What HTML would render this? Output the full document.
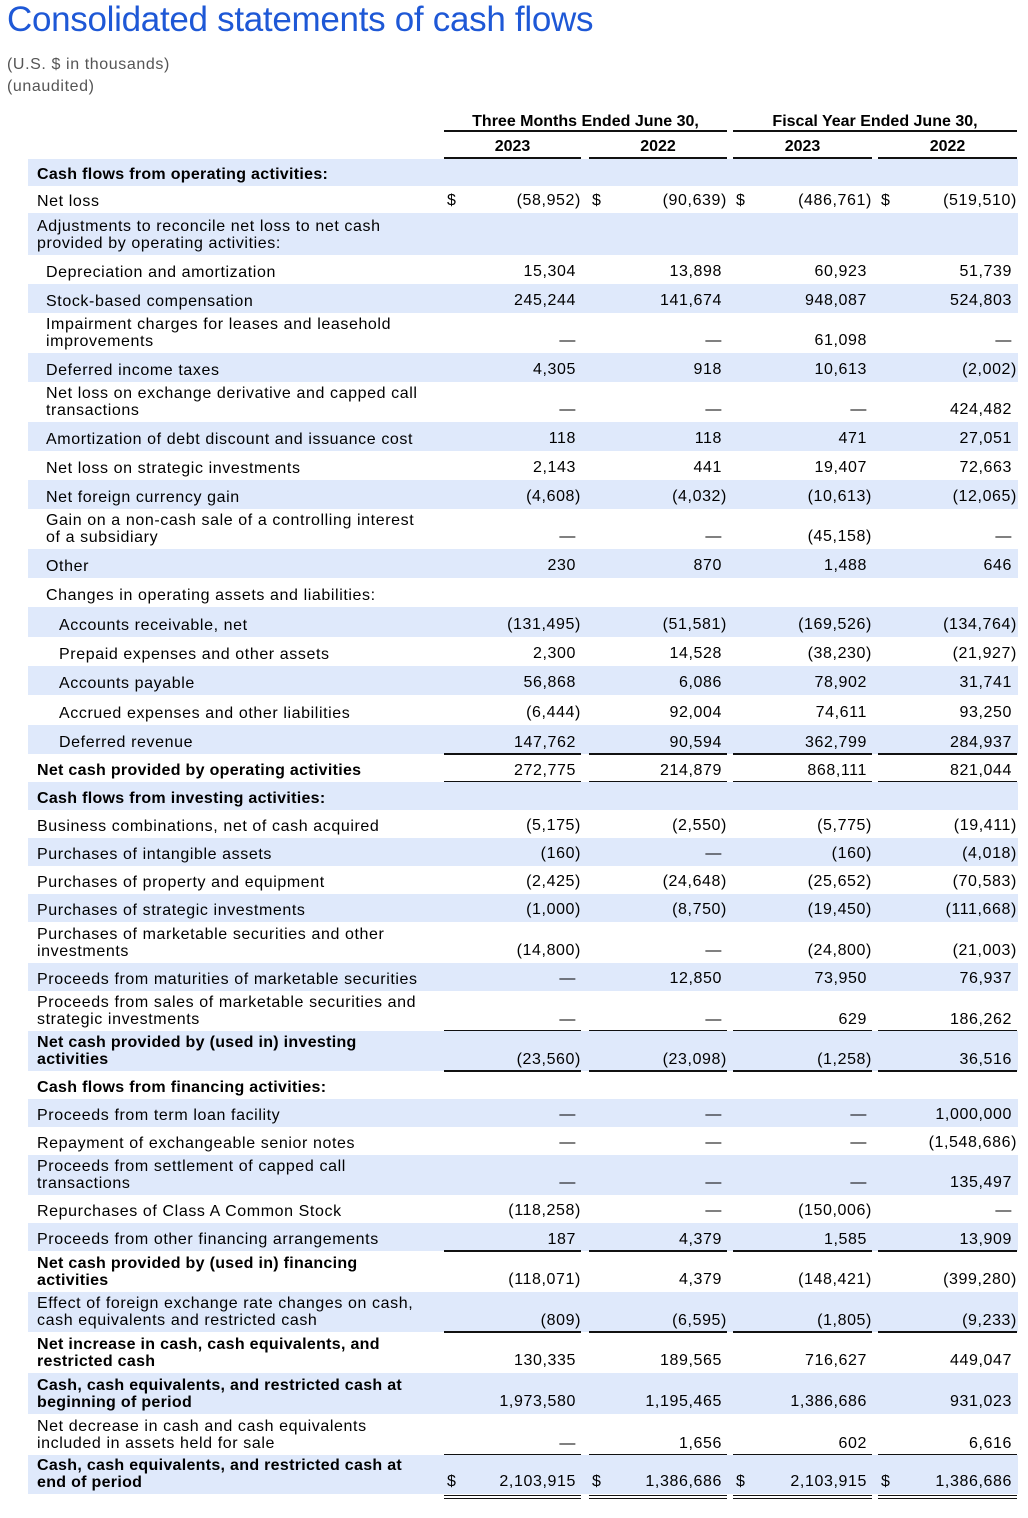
<!DOCTYPE html>
<html><head><meta charset="utf-8"><style>
body{margin:0;width:1028px;height:1518px;background:#fff;position:relative;font-family:"Liberation Sans",Arial,sans-serif;color:#000;overflow:hidden}
.t{position:absolute;left:7px;top:0px;font-size:35px;color:#1e58d6;letter-spacing:-0.3px}
.sub{position:absolute;left:7px;font-size:16px;color:#555;letter-spacing:0.6px}
.h{position:absolute;font-size:16px;font-weight:bold;text-align:center}
.hl{position:absolute;height:2px;background:#111}
.r{position:absolute;left:28px;width:990px}
.s{background:#dfe9fb}
.l{position:absolute;left:9px;bottom:3px;font-size:16px;line-height:17px;white-space:nowrap;letter-spacing:0.6px}
.l.b{letter-spacing:0.3px}
.l.i1{left:18px}.l.i2{left:31px}
.b{font-weight:bold}
.c{position:absolute;bottom:0;height:24px;line-height:24px;text-align:right;font-size:16px;box-sizing:border-box;letter-spacing:0.6px}
.c1{left:416px;width:137px}.c2{left:561px;width:138px}.c3{left:705px;width:139px}.c4{left:850px;width:139px}
.u{border-bottom:2px solid #111;bottom:-1px}
.dd{border-bottom:4px double #111;bottom:-5px;height:29px;line-height:24px}
.p{padding-right:5px}
.d{position:absolute;left:3px}
</style></head><body>
<div class="t">Consolidated statements of cash flows</div>
<div class="sub" style="top:56px">(U.S. $ in thousands)</div>
<div class="sub" style="top:78px">(unaudited)</div>
<div class="h" style="left:444px;width:283px;top:113px">Three Months Ended June 30,</div>
<div class="h" style="left:733px;width:284px;top:113px">Fiscal Year Ended June 30,</div>
<div class="hl" style="left:444px;width:283px;top:130px"></div>
<div class="hl" style="left:733px;width:284px;top:130px"></div>
<div class="h" style="left:444px;width:137px;top:138px">2023</div>
<div class="h" style="left:589px;width:138px;top:138px">2022</div>
<div class="h" style="left:733px;width:139px;top:138px">2023</div>
<div class="h" style="left:878px;width:139px;top:138px">2022</div>
<div class="hl" style="left:444px;width:137px;top:157px"></div>
<div class="hl" style="left:589px;width:138px;top:157px"></div>
<div class="hl" style="left:733px;width:139px;top:157px"></div>
<div class="hl" style="left:878px;width:139px;top:157px"></div>

<div class="r s" style="top:159px;height:27px"><div class="l b">Cash flows from operating activities:</div></div>
<div class="r" style="top:186px;height:27px"><div class="l">Net loss</div><div class="c c1"><span class="d">$</span>(58,952)</div><div class="c c2"><span class="d">$</span>(90,639)</div><div class="c c3"><span class="d">$</span>(486,761)</div><div class="c c4"><span class="d">$</span>(519,510)</div></div>
<div class="r s" style="top:213px;height:42px"><div class="l">Adjustments to reconcile net loss to net cash<br>provided by operating activities:</div></div>
<div class="r" style="top:255px;height:29px"><div class="l i1">Depreciation and amortization</div><div class="c c1 p">15,304</div><div class="c c2 p">13,898</div><div class="c c3 p">60,923</div><div class="c c4 p">51,739</div></div>
<div class="r s" style="top:284px;height:29px"><div class="l i1">Stock-based compensation</div><div class="c c1 p">245,244</div><div class="c c2 p">141,674</div><div class="c c3 p">948,087</div><div class="c c4 p">524,803</div></div>
<div class="r" style="top:313px;height:40px"><div class="l i1">Impairment charges for leases and leasehold<br>improvements</div><div class="c c1 p">—</div><div class="c c2 p">—</div><div class="c c3 p">61,098</div><div class="c c4 p">—</div></div>
<div class="r s" style="top:353px;height:29px"><div class="l i1">Deferred income taxes</div><div class="c c1 p">4,305</div><div class="c c2 p">918</div><div class="c c3 p">10,613</div><div class="c c4">(2,002)</div></div>
<div class="r" style="top:382px;height:40px"><div class="l i1">Net loss on exchange derivative and capped call<br>transactions</div><div class="c c1 p">—</div><div class="c c2 p">—</div><div class="c c3 p">—</div><div class="c c4 p">424,482</div></div>
<div class="r s" style="top:422px;height:29px"><div class="l i1">Amortization of debt discount and issuance cost</div><div class="c c1 p">118</div><div class="c c2 p">118</div><div class="c c3 p">471</div><div class="c c4 p">27,051</div></div>
<div class="r" style="top:451px;height:29px"><div class="l i1">Net loss on strategic investments</div><div class="c c1 p">2,143</div><div class="c c2 p">441</div><div class="c c3 p">19,407</div><div class="c c4 p">72,663</div></div>
<div class="r s" style="top:480px;height:29px"><div class="l i1">Net foreign currency gain</div><div class="c c1">(4,608)</div><div class="c c2">(4,032)</div><div class="c c3">(10,613)</div><div class="c c4">(12,065)</div></div>
<div class="r" style="top:509px;height:40px"><div class="l i1">Gain on a non-cash sale of a controlling interest<br>of a subsidiary</div><div class="c c1 p">—</div><div class="c c2 p">—</div><div class="c c3">(45,158)</div><div class="c c4 p">—</div></div>
<div class="r s" style="top:549px;height:29px"><div class="l i1">Other</div><div class="c c1 p">230</div><div class="c c2 p">870</div><div class="c c3 p">1,488</div><div class="c c4 p">646</div></div>
<div class="r" style="top:578px;height:29px"><div class="l i1">Changes in operating assets and liabilities:</div></div>
<div class="r s" style="top:607px;height:30px"><div class="l i2">Accounts receivable, net</div><div class="c c1">(131,495)</div><div class="c c2">(51,581)</div><div class="c c3">(169,526)</div><div class="c c4">(134,764)</div></div>
<div class="r" style="top:637px;height:29px"><div class="l i2">Prepaid expenses and other assets</div><div class="c c1 p">2,300</div><div class="c c2 p">14,528</div><div class="c c3">(38,230)</div><div class="c c4">(21,927)</div></div>
<div class="r s" style="top:666px;height:29px"><div class="l i2">Accounts payable</div><div class="c c1 p">56,868</div><div class="c c2 p">6,086</div><div class="c c3 p">78,902</div><div class="c c4 p">31,741</div></div>
<div class="r" style="top:695px;height:30px"><div class="l i2">Accrued expenses and other liabilities</div><div class="c c1">(6,444)</div><div class="c c2 p">92,004</div><div class="c c3 p">74,611</div><div class="c c4 p">93,250</div></div>
<div class="r s" style="top:725px;height:29px"><div class="l i2">Deferred revenue</div><div class="c c1 p u">147,762</div><div class="c c2 p u">90,594</div><div class="c c3 p u">362,799</div><div class="c c4 p u">284,937</div></div>
<div class="r" style="top:754px;height:28px"><div class="l b">Net cash provided by operating activities</div><div class="c c1 p u">272,775</div><div class="c c2 p u">214,879</div><div class="c c3 p u">868,111</div><div class="c c4 p u">821,044</div></div>
<div class="r s" style="top:782px;height:28px"><div class="l b">Cash flows from investing activities:</div></div>
<div class="r" style="top:810px;height:28px"><div class="l">Business combinations, net of cash acquired</div><div class="c c1">(5,175)</div><div class="c c2">(2,550)</div><div class="c c3">(5,775)</div><div class="c c4">(19,411)</div></div>
<div class="r s" style="top:838px;height:28px"><div class="l">Purchases of intangible assets</div><div class="c c1">(160)</div><div class="c c2 p">—</div><div class="c c3">(160)</div><div class="c c4">(4,018)</div></div>
<div class="r" style="top:866px;height:28px"><div class="l">Purchases of property and equipment</div><div class="c c1">(2,425)</div><div class="c c2">(24,648)</div><div class="c c3">(25,652)</div><div class="c c4">(70,583)</div></div>
<div class="r s" style="top:894px;height:28px"><div class="l">Purchases of strategic investments</div><div class="c c1">(1,000)</div><div class="c c2">(8,750)</div><div class="c c3">(19,450)</div><div class="c c4">(111,668)</div></div>
<div class="r" style="top:922px;height:41px"><div class="l">Purchases of marketable securities and other<br>investments</div><div class="c c1">(14,800)</div><div class="c c2 p">—</div><div class="c c3">(24,800)</div><div class="c c4">(21,003)</div></div>
<div class="r s" style="top:963px;height:28px"><div class="l">Proceeds from maturities of marketable securities</div><div class="c c1 p">—</div><div class="c c2 p">12,850</div><div class="c c3 p">73,950</div><div class="c c4 p">76,937</div></div>
<div class="r" style="top:991px;height:40px"><div class="l">Proceeds from sales of marketable securities and<br>strategic investments</div><div class="c c1 p u">—</div><div class="c c2 p u">—</div><div class="c c3 p u">629</div><div class="c c4 p u">186,262</div></div>
<div class="r s" style="top:1031px;height:40px"><div class="l b">Net cash provided by (used in) investing<br>activities</div><div class="c c1 u">(23,560)</div><div class="c c2 u">(23,098)</div><div class="c c3 u">(1,258)</div><div class="c c4 p u">36,516</div></div>
<div class="r" style="top:1071px;height:28px"><div class="l b">Cash flows from financing activities:</div></div>
<div class="r s" style="top:1099px;height:28px"><div class="l">Proceeds from term loan facility</div><div class="c c1 p">—</div><div class="c c2 p">—</div><div class="c c3 p">—</div><div class="c c4 p">1,000,000</div></div>
<div class="r" style="top:1127px;height:28px"><div class="l">Repayment of exchangeable senior notes</div><div class="c c1 p">—</div><div class="c c2 p">—</div><div class="c c3 p">—</div><div class="c c4">(1,548,686)</div></div>
<div class="r s" style="top:1155px;height:40px"><div class="l">Proceeds from settlement of capped call<br>transactions</div><div class="c c1 p">—</div><div class="c c2 p">—</div><div class="c c3 p">—</div><div class="c c4 p">135,497</div></div>
<div class="r" style="top:1195px;height:28px"><div class="l">Repurchases of Class A Common Stock</div><div class="c c1">(118,258)</div><div class="c c2 p">—</div><div class="c c3">(150,006)</div><div class="c c4 p">—</div></div>
<div class="r s" style="top:1223px;height:28px"><div class="l">Proceeds from other financing arrangements</div><div class="c c1 p u">187</div><div class="c c2 p u">4,379</div><div class="c c3 p u">1,585</div><div class="c c4 p u">13,909</div></div>
<div class="r" style="top:1251px;height:41px"><div class="l b">Net cash provided by (used in) financing<br>activities</div><div class="c c1">(118,071)</div><div class="c c2 p">4,379</div><div class="c c3">(148,421)</div><div class="c c4">(399,280)</div></div>
<div class="r s" style="top:1292px;height:40px"><div class="l">Effect of foreign exchange rate changes on cash,<br>cash equivalents and restricted cash</div><div class="c c1 u">(809)</div><div class="c c2 u">(6,595)</div><div class="c c3 u">(1,805)</div><div class="c c4 u">(9,233)</div></div>
<div class="r" style="top:1332px;height:41px"><div class="l b">Net increase in cash, cash equivalents, and<br>restricted cash</div><div class="c c1 p">130,335</div><div class="c c2 p">189,565</div><div class="c c3 p">716,627</div><div class="c c4 p">449,047</div></div>
<div class="r s" style="top:1373px;height:41px"><div class="l b">Cash, cash equivalents, and restricted cash at<br>beginning of period</div><div class="c c1 p">1,973,580</div><div class="c c2 p">1,195,465</div><div class="c c3 p">1,386,686</div><div class="c c4 p">931,023</div></div>
<div class="r" style="top:1414px;height:41px"><div class="l">Net decrease in cash and cash equivalents<br>included in assets held for sale</div><div class="c c1 p u">—</div><div class="c c2 p u">1,656</div><div class="c c3 p u">602</div><div class="c c4 p u">6,616</div></div>
<div class="r s" style="top:1455px;height:39px"><div class="l b">Cash, cash equivalents, and restricted cash at<br>end of period</div><div class="c c1 p dd"><span class="d">$</span>2,103,915</div><div class="c c2 p dd"><span class="d">$</span>1,386,686</div><div class="c c3 p dd"><span class="d">$</span>2,103,915</div><div class="c c4 p dd"><span class="d">$</span>1,386,686</div></div>
</body></html>
